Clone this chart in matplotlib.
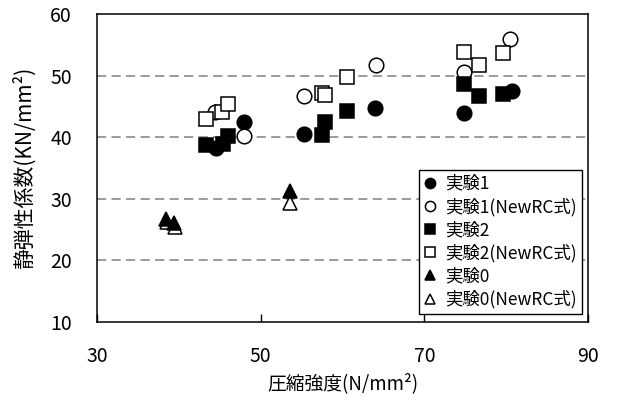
import matplotlib
matplotlib.use("Agg")
import matplotlib.pyplot as plt

plt.rcParams['font.family'] = ['Noto Sans CJK JP', 'DejaVu Sans']

# ── data ──────────────────────────────────────────────────────
exp1_x = [44.5, 48.0, 55.3, 64.0, 74.8, 80.7]
exp1_y = [38.2, 42.5, 40.5, 44.8, 43.9, 47.5]

exp1n_x = [44.4, 48.0, 55.3, 64.1, 74.8, 80.5]
exp1n_y = [44.1, 40.2, 46.7, 51.8, 50.6, 55.9]

exp2_x = [43.3, 45.4, 46.0, 57.5, 57.9, 60.6, 74.8, 76.7, 79.6]
exp2_y = [38.8, 38.9, 40.2, 40.4, 42.5, 44.3, 48.7, 46.7, 47.0]

exp2n_x = [43.3, 45.3, 46.0, 57.5, 57.9, 60.5, 74.8, 76.7, 79.6]
exp2n_y = [43.0, 44.1, 45.4, 47.1, 46.9, 49.8, 53.9, 51.8, 53.7]

exp0_x = [38.4, 39.4, 53.6]
exp0_y = [26.8, 26.0, 31.2]

exp0n_x = [38.5, 39.5, 53.6]
exp0n_y = [26.3, 25.5, 29.3]

labels = ["実験1", "実験1(NewRC式)", "実験2", "実験2(NewRC式)", "実験0", "実験0(NewRC式)"]

x_ticks = [30, 50, 70, 90]
y_ticks = [10, 20, 30, 40, 50, 60]

# ── plot ──────────────────────────────────────────────────────
fig = plt.figure(figsize=(6.36, 4.09), dpi=100)
ax = fig.add_axes([0.1525, 0.2127, 0.772, 0.7531])

ax.set_xlim(30, 90)
ax.set_ylim(10, 60)

for yv in [20, 30, 40, 50]:
    ax.axhline(yv, color="#808080", lw=1.1, ls=(0, (6, 3.5)), zorder=0)

mew = 1.1
ax.plot(exp0n_x, exp0n_y, ls="none", marker="^", ms=9.5, mfc="white", mec="black", mew=mew, label=labels[5], zorder=3)
ax.plot(exp0_x, exp0_y, ls="none", marker="^", ms=9.5, mfc="black", mec="black", mew=mew, label=labels[4], zorder=3)
ax.plot(exp1_x, exp1_y, ls="none", marker="o", ms=10.5, mfc="black", mec="black", mew=mew, label=labels[0], zorder=3)
ax.plot(exp1n_x, exp1n_y, ls="none", marker="o", ms=10.5, mfc="white", mec="black", mew=mew, label=labels[1], zorder=3)
ax.plot(exp2_x, exp2_y, ls="none", marker="s", ms=10, mfc="black", mec="black", mew=mew, label=labels[2], zorder=3)
ax.plot(exp2n_x, exp2n_y, ls="none", marker="s", ms=10, mfc="white", mec="black", mew=mew, label=labels[3], zorder=3)

ax.set_xticks(x_ticks)
ax.set_yticks(y_ticks)
ax.tick_params(axis="x", direction="in", length=6, width=1, pad=17, labelsize=14)
ax.tick_params(axis="y", direction="in", length=0, pad=18, labelsize=14)
for s in ax.spines.values():
    s.set_linewidth(1.1)

ax.set_xlabel("圧縮強度(N/mm²)", fontsize=13.5, labelpad=5)
ax.set_ylabel("静弾性係数(KN/mm²)", fontsize=15, labelpad=10)

handles, labs = ax.get_legend_handles_labels()
order = [labs.index(l) for l in labels]
leg = ax.legend([handles[i] for i in order], [labs[i] for i in order],
                loc="lower right", bbox_to_anchor=(0.988, 0.026),
                fontsize=12.5, markerscale=0.7, handlelength=0.6,
                handletextpad=0.6, labelspacing=0.28, borderpad=0.3,
                borderaxespad=0, fancybox=False, framealpha=1,
                edgecolor="black")
leg.get_frame().set_linewidth(1.0)

fig.savefig("out.png", dpi=100)
